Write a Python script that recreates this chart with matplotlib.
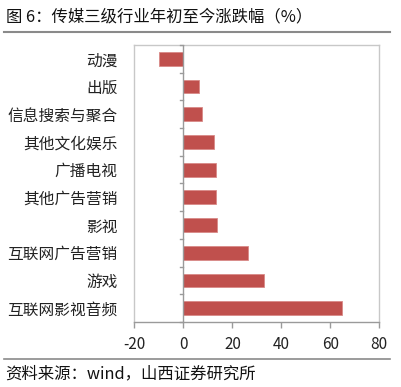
import numpy as np
import matplotlib.pyplot as plt
from matplotlib.lines import Line2D

plt.rcParams['font.family'] = ['Noto Sans CJK SC', 'DejaVu Sans']

# data (top to bottom as drawn)
industries = ['动漫', '出版', '信息搜索与聚合', '其他文化娱乐', '广播电视',
              '其他广告营销', '影视', '互联网广告营销', '游戏', '互联网影视音频']
changes = [-10.0, 6.3, 7.6, 12.4, 13.2, 13.4, 13.8, 26.4, 32.8, 64.8]
xticks = [-20, 0, 20, 40, 60, 80]

W, H = 402, 387
fig = plt.figure(figsize=(W / 100, H / 100), dpi=100)
ax = fig.add_axes([134.5 / W, 1 - 322 / H, (379.3 - 134.5) / W, (322 - 45) / H])

n = len(industries)
pos = np.arange(n)
ax.barh(pos, changes, height=0.5, color='#C0504D', edgecolor='#D98A88', linewidth=0.6, zorder=3)
ax.set_ylim(n - 0.5, -0.5)
ax.set_xlim(-20, 80)

ax.set_xticks(xticks)
ax.set_xticklabels([str(v) for v in xticks], fontsize=11, color='#222222')
ax.tick_params(axis='x', direction='out', length=4, width=1, color='#9a9a9a', pad=6)

ax.set_yticks(pos)
ax.set_yticklabels(industries, fontsize=11.3, color='#222222')
ax.tick_params(axis='y', length=0, pad=12)

for s in ['top', 'right', 'left']:
    ax.spines[s].set_color('#c8c8c8')
    ax.spines[s].set_linewidth(1)
ax.spines['bottom'].set_color('#9a9a9a')
ax.spines['bottom'].set_linewidth(1)

# zero axis with category boundary ticks
ax.axvline(0, color='#9a9a9a', linewidth=1, zorder=4)
for b in np.arange(-0.5, n, 1.0):
    ax.plot([-1.6, 0], [b, b], color='#9a9a9a', linewidth=1, zorder=4, clip_on=False)

# title and source with rules
fig.text(6 / W, 1 - 17 / H, '图 6：传媒三级行业年初至今涨跌幅（%）', fontsize=11.8,
         va='center', ha='left', color='#111111')
fig.add_artist(Line2D([4 / W, 390 / W], [1 - 32 / H, 1 - 32 / H], color='#8a8a8a', linewidth=1.5))
fig.add_artist(Line2D([4 / W, 390 / W], [1 - 359 / H, 1 - 359 / H], color='#8a8a8a', linewidth=1.2))
fig.text(5 / W, 1 - 374 / H, '资料来源：wind，山西证券研究所', fontsize=11.8,
         va='center', ha='left', color='#111111')

fig.savefig('out.png', dpi=100)
